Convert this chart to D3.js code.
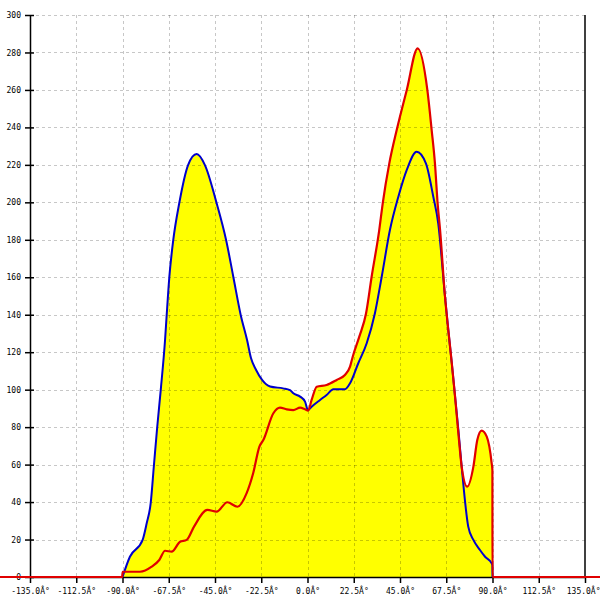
<!DOCTYPE html>
<html><head><meta charset="utf-8">
<script src="https://cdn.jsdelivr.net/npm/d3@7"></script>
<style>body{margin:0;background:#fff}svg{display:block}</style>
</head><body>
<svg id="c" width="600" height="600"></svg>
<script>
const xTicks = [-135, -112.5, -90, -67.5, -45, -22.5, 0, 22.5, 45, 67.5, 90, 112.5, 135];
const yTicks = [0, 20, 40, 60, 80, 100, 120, 140, 160, 180, 200, 220, 240, 260, 280, 300];

const blueAngles = [-90, -86.4, -80.2, -78.2, -76.3, -74.7, -73.1, -71.4, -69.3, -68.5, -67.2, -65.3, -62.4, -58.1, -53.9, -49.9, -44.2, -39.6, -36.1, -32.5, -29.4, -27.5, -25.0, -22.1, -18.2, -11.9, -8.5, -6.9, -3.6, -1.2, 0.2, 2.0, 6.1, 9.3, 12.6, 18.2, 20.7, 24.7, 28.8, 32.8, 36.1, 40.1, 44.2, 48.3, 53.1, 57.6, 61.2, 63.6, 66.9, 68.5, 70.2, 71.8, 73.4, 75.0, 78.2, 80.7, 83.9, 86.4, 89.6, 89.95, 90];
const blueValues = [0, 10.8, 19.8, 28.8, 39.3, 59.8, 80.2, 99.8, 126.5, 139.9, 160.3, 179.9, 199.5, 219.9, 225.8, 219.9, 199.5, 179.9, 160.3, 139.9, 126.5, 116.9, 110.5, 105.2, 101.7, 100.7, 99.8, 98.1, 96.3, 93.6, 89.1, 90.9, 94.5, 97.2, 100.2, 100.2, 103.4, 114.1, 124.8, 140.8, 160.3, 185.2, 203.0, 217.3, 227.0, 220.8, 203.0, 188.8, 149.6, 131.8, 114.1, 96.2, 78.5, 58.9, 26.9, 19.8, 14.4, 10.8, 7.3, 6.4, 0];

const redAngles = [-150, -90.2, -89.9, -81.5, -75.8, -72.1, -69.3, -66.1, -62.0, -58.8, -55.2, -48.7, -44.2, -39.0, -34.1, -29.6, -26.4, -23.4, -21.5, -16.6, -13.4, -10.1, -6.9, -3.6, -1.2, 0.3, 2.0, 4.5, 9.3, 14.2, 18.2, 20.7, 22.0, 25.2, 28.5, 31.2, 34.9, 36.6, 39.8, 43.4, 48.3, 53.6, 58.3, 60.4, 62.0, 63.3, 64.5, 66.9, 68.5, 70.2, 71.8, 73.4, 75.0, 77.7, 80.7, 82.6, 84.7, 87.2, 89.6, 89.95, 90, 150];
const redValues = [0, 0, 2.8, 2.8, 5.5, 9.1, 14.0, 13.5, 18.8, 19.8, 26.9, 35.8, 34.9, 39.9, 37.5, 44.8, 55.5, 69.6, 73.1, 87.4, 90.4, 89.5, 89.1, 90.4, 89.5, 88.8, 94.5, 101.6, 102.5, 105.2, 107.8, 112.3, 117.6, 128.3, 140.8, 160.3, 185.2, 199.5, 220.8, 238.6, 260.0, 282.2, 260.0, 238.6, 220.8, 199.5, 185.2, 149.6, 131.8, 114.1, 96.2, 76.7, 58.9, 48.2, 58.9, 73.1, 78.1, 74.9, 60.7, 57.1, 0, 0];

const blue = blueAngles.map((a, i) => ({a, v: blueValues[i]}));
const red = redAngles.map((a, i) => ({a, v: redValues[i]}));

const svg = d3.select('#c');
const x = d3.scaleLinear().domain([-135, 135]).range([30, 585]);
const y = d3.scaleLinear().domain([0, 300]).range([577, 15]);

svg.append('rect').attr('width', 600).attr('height', 600).attr('fill', '#fff');

const area = d3.area().x(d => x(d.a)).y0(y(0)).y1(d => y(d.v)).curve(d3.curveMonotoneX);
const line = d3.line().x(d => x(d.a)).y(d => y(d.v)).curve(d3.curveMonotoneX);

svg.append('path').datum(blue).attr('d', area).attr('fill', '#ffff00');
svg.append('path').datum(red.filter(d => d.a >= -90.5 && d.a <= 90)).attr('d', area).attr('fill', '#ffff00');

// grid
const grid = svg.append('g').attr('stroke', 'rgba(0,0,0,0.22)').attr('stroke-dasharray', '3,3').attr('stroke-width', 1);
xTicks.filter(t => t > -135 && t < 135).forEach(t => {
  grid.append('line').attr('x1', Math.round(x(t)) + 0.5).attr('x2', Math.round(x(t)) + 0.5).attr('y1', y(300)).attr('y2', y(0));
});
yTicks.filter(t => t > 0).forEach(t => {
  grid.append('line').attr('y1', Math.round(y(t)) + 0.5).attr('y2', Math.round(y(t)) + 0.5).attr('x1', x(-135)).attr('x2', x(135));
});

// axes
const fmt = d => d.toFixed(1) + '\u00C2\u00B0';
const xAxis = svg.append('g').attr('transform', `translate(0,${y(0)})`)
  .call(d3.axisBottom(x).tickValues(xTicks).tickFormat(fmt).tickSize(6).tickSizeOuter(0).tickPadding(5));
const yAxis = svg.append('g').attr('transform', `translate(${x(-135)},0)`)
  .call(d3.axisLeft(y).tickValues(yTicks).tickSize(5).tickSizeOuter(0).tickPadding(4));
yAxis.selectAll('.tick line').attr('x1', 4);
[xAxis, yAxis].forEach(g => {
  g.selectAll('text').attr('font-family', '"DejaVu Sans Mono", monospace').attr('font-size', 8).attr('fill', '#000');
  g.selectAll('line,path').attr('stroke', '#000').attr('stroke-width', 1.5);
});
// last x label sits flush with the right edge, as in the reference
xAxis.selectAll('.tick text').filter(d => d === 135).attr('text-anchor', 'end').attr('x', 600 - x(135));
svg.append('line').attr('x1', x(135)).attr('x2', x(135)).attr('y1', y(300)).attr('y2', y(0)).attr('stroke', '#000').attr('stroke-width', 1.5);

// lines
svg.append('path').datum(blue).attr('d', line).attr('fill', 'none').attr('stroke', '#0000cc').attr('stroke-width', 2);
svg.append('path').datum(red).attr('d', line).attr('fill', 'none').attr('stroke', '#e00000').attr('stroke-width', 2.2);
</script>
</body></html>
